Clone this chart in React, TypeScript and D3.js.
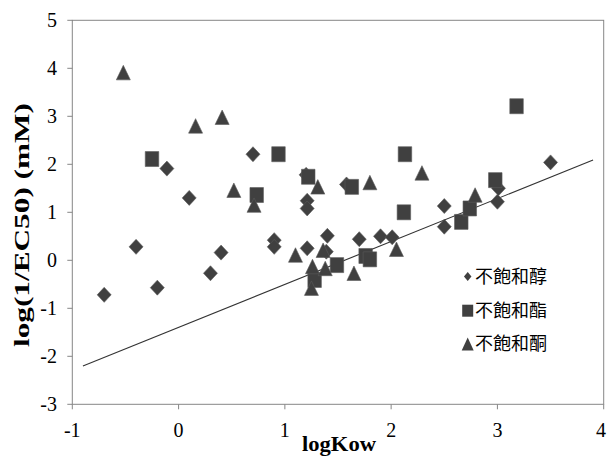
import React from "react";
import * as d3 from "d3";

// 不飽和醇 (diamonds)
const alcoholX = [-0.70, -0.40, -0.20, -0.11, 0.10, 0.30, 0.40, 0.70, 0.90, 0.90, 1.20, 1.21, 1.21, 1.21, 1.40, 1.39, 1.58, 1.70, 1.90, 2.01, 2.50, 2.50, 3.00, 3.01, 3.50];
const alcoholY = [-0.72, 0.28, -0.57, 1.91, 1.30, -0.27, 0.16, 2.21, 0.42, 0.28, 1.78, 1.24, 1.08, 0.25, 0.51, 0.18, 1.58, 0.44, 0.50, 0.48, 1.13, 0.70, 1.22, 1.50, 2.04];
// 不飽和酯 (squares)
const esterX = [-0.25, 0.735, 0.94, 1.22, 1.28, 1.49, 1.63, 1.76, 1.80, 2.12, 2.13, 2.66, 2.74, 2.98, 3.18];
const esterY = [2.11, 1.36, 2.21, 1.74, -0.41, -0.10, 1.53, 0.09, 0.02, 1.00, 2.21, 0.80, 1.08, 1.67, 3.21];
// 不飽和酮 (triangles)
const ketoneX = [-0.52, 0.16, 0.41, 0.52, 0.71, 1.10, 1.26, 1.25, 1.38, 1.36, 1.31, 1.65, 1.80, 2.05, 2.29, 2.79];
const ketoneY = [3.91, 2.80, 2.98, 1.46, 1.15, 0.11, -0.13, -0.58, -0.17, 0.21, 1.53, -0.27, 1.62, 0.23, 1.82, 1.36];
// trend line endpoints
const lineX = [-0.9, 3.9];
const lineY = [-2.2, 2.09];

const xTicks = [-1, 0, 1, 2, 3, 4];
const yTicks = [-3, -2, -1, 0, 1, 2, 3, 4, 5];
const legendLabels = ["不飽和醇", "不飽和酯", "不飽和酮"];

const W = 607;
const H = 457;
const LEFT = 72.3, RIGHT = 603.7, TOP = 20.3, BOTTOM = 404.3;
const MARK = "#404040";
const AXIS = "#868686";
const SERIF = "'Liberation Serif', 'Times New Roman', serif";
const CJK = "'Noto Sans CJK TC', 'Noto Sans CJK SC', sans-serif";

const diamond = (w: number, h: number) => `M0,${-h / 2}L${w / 2},0L0,${h / 2}L${-w / 2},0Z`;
const square = (w: number, h: number) => `M${-w / 2},${-h / 2}h${w}v${h}h${-w}Z`;
const triangle = (w: number, h: number) => `M0,${-h / 2}L${w / 2},${h / 2}L${-w / 2},${h / 2}Z`;

export default function App() {
  const x = d3.scaleLinear().domain([-1, 4]).range([LEFT, RIGHT]);
  const y = d3.scaleLinear().domain([-3, 5]).range([BOTTOM, TOP]);
  const line = d3.line<number>().x((d) => x(d)).y((_, i) => y(lineY[i]));

  const series = [
    { xs: alcoholX, ys: alcoholY, path: diamond(14, 15) },
    { xs: esterX, ys: esterY, path: square(13.5, 15) },
    { xs: ketoneX, ys: ketoneY, path: triangle(14, 14.5) },
  ];
  const legendPaths = [diamond(7.5, 9), square(11, 12), triangle(12, 13)];
  const legendY = [276.5, 310.7, 344];

  return (
    <div style={{ position: "fixed", left: 0, top: 0, width: W, height: H, background: "#fff" }}>
      <svg width={W} height={H} style={{ display: "block" }}>
        <rect x={0} y={0} width={W} height={H} fill="#fff" />
        {/* plot border */}
        <rect x={LEFT} y={TOP} width={RIGHT - LEFT} height={BOTTOM - TOP} fill="none" stroke={AXIS} strokeWidth={1} />
        {/* y ticks */}
        {yTicks.map((t) => (
          <g key={"y" + t}>
            <line x1={LEFT - 5} x2={LEFT} y1={y(t)} y2={y(t)} stroke={AXIS} />
            <text x={57} y={y(t)} dy="0.35em" textAnchor="end" fontFamily={SERIF} fontSize={20} fill="#000">
              {t}
            </text>
          </g>
        ))}
        {/* x ticks */}
        {xTicks.map((t) => (
          <g key={"x" + t}>
            <line x1={x(t)} x2={x(t)} y1={BOTTOM} y2={BOTTOM + 5} stroke={AXIS} />
            <text x={Math.min(x(t), W - 6)} y={437} textAnchor="middle" fontFamily={SERIF} fontSize={20} fill="#000">
              {t}
            </text>
          </g>
        ))}
        {/* trend line */}
        <path d={line(lineX) || ""} fill="none" stroke="#333" strokeWidth={1.1} />
        {/* markers */}
        {series.map((s, si) =>
          s.xs.map((v, i) => (
            <path key={si + "-" + i} d={s.path} transform={`translate(${x(v)},${y(s.ys[i])})`} fill={MARK} stroke="#5a5a5a" strokeWidth={0.6} />
          ))
        )}
        {/* legend */}
        {legendLabels.map((lab, i) => (
          <g key={lab}>
            <path d={legendPaths[i]} transform={`translate(467.7,${legendY[i]})`} fill={MARK} />
            <text x={475} y={legendY[i]} dy="0.36em" fontFamily={CJK} fontSize={18} fill="#000">
              {lab}
            </text>
          </g>
        ))}
        {/* axis titles */}
        <text
          transform="translate(28.5,225) rotate(-90)"
          textAnchor="middle"
          fontFamily={SERIF}
          fontWeight="bold"
          fontSize={22}
          textLength={244}
          lengthAdjust="spacingAndGlyphs"
          fill="#000"
        >
          log(1/EC50) (mM)
        </text>
        <text
          x={339}
          y={451}
          textAnchor="middle"
          fontFamily={SERIF}
          fontWeight="bold"
          fontSize={21}
          textLength={74}
          lengthAdjust="spacingAndGlyphs"
          fill="#000"
        >
          logKow
        </text>
      </svg>
    </div>
  );
}
